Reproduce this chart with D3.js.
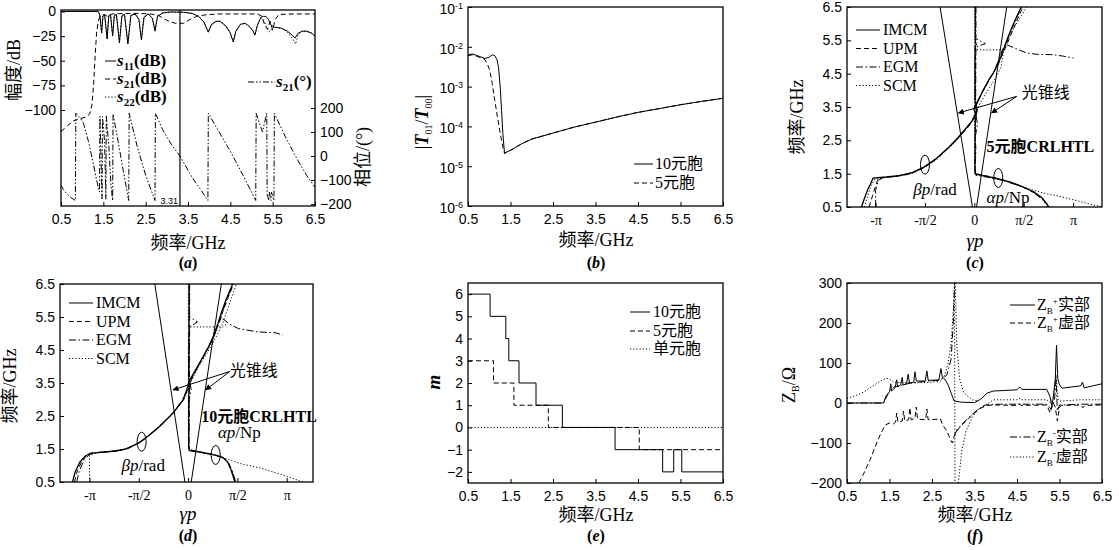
<!DOCTYPE html>
<html>
<head>
<meta charset="utf-8">
<script src="https://cdn.jsdelivr.net/npm/d3@7"></script>
<style>
  body { margin: 0; background: #fff; }
  svg { display: block; }
</style>
</head>
<body>
<script>
// ---------- data ----------
var freqTicks = [0.5, 1.5, 2.5, 3.5, 4.5, 5.5, 6.5];
var gpTicks = [-Math.PI, -Math.PI / 2, 0, Math.PI / 2, Math.PI];
var gpLabels = ["-π", "-π/2", "0", "π/2", "π"];

// (a) S parameters, dB on left axis, phase on right axis
var aDbTicks = [0, -25, -50, -75, -100];
var aPhTicks = [200, 100, 0, -100, -200];
var aMark = 3.31;
var aS11 = [[0.5,0],[1.38,0],[1.42,-4],[1.46,-22],[1.49,-5],[1.53,-3],[1.59,-28],[1.63,-4],[1.67,-3],[1.72,-25],[1.76,-4],[1.81,-3],[1.88,-32],[1.94,-4],[2.0,-3],[2.08,-33],[2.15,-4],[2.25,-2.5],[2.34,-8],[2.4,-29],[2.46,-6],[2.56,-2.5],[2.66,-7],[2.72,-20],[2.78,-5],[2.9,-1.5],[3.1,-0.5],[3.4,-0.8],[3.6,-2],[3.75,-5],[3.88,-11],[3.98,-21],[4.06,-13],[4.16,-10],[4.26,-10],[4.4,-15],[4.5,-22],[4.57,-31],[4.63,-20],[4.74,-13],[4.85,-12],[4.97,-16],[5.04,-20],[5.08,-24],[5.14,-14],[5.22,-6],[5.28,-5],[5.34,-5],[5.4,-8],[5.46,-14],[5.55,-16],[5.71,-17],[5.85,-20],[5.96,-24],[6.03,-27],[6.1,-22],[6.2,-20],[6.3,-20],[6.42,-22],[6.5,-25]];
var aS22 = [[0.5,0],[1.38,0],[1.42,-4],[1.46,-21],[1.49,-5],[1.53,-3],[1.59,-27],[1.63,-4],[1.67,-3],[1.72,-24],[1.76,-4],[1.81,-3],[1.88,-31],[1.94,-4],[2.0,-3],[2.08,-32],[2.15,-4],[2.25,-2.5],[2.34,-8],[2.4,-28],[2.46,-6],[2.56,-2.5],[2.66,-7],[2.72,-19],[2.78,-5],[2.9,-1.5],[3.1,-0.5],[3.4,-0.8],[3.6,-2],[3.75,-5],[3.88,-11],[3.98,-21],[4.06,-13],[4.16,-10],[4.26,-10],[4.4,-15],[4.5,-22],[4.57,-31],[4.63,-20],[4.74,-13],[4.85,-12],[4.97,-16],[5.04,-20],[5.08,-24],[5.14,-14],[5.22,-7],[5.3,-10],[5.38,-18],[5.43,-21],[5.48,-17],[5.55,-16],[5.71,-17],[5.85,-21],[5.96,-27],[6.04,-33],[6.1,-24],[6.2,-20],[6.3,-20],[6.42,-22],[6.5,-25]];
var aS21 = [[0.5,-122],[0.65,-116],[0.8,-111],[0.95,-109],[1.1,-107],[1.18,-104],[1.23,-95],[1.27,-75],[1.3,-50],[1.34,-22],[1.38,-10],[1.42,-5],[1.5,-3],[1.6,-5],[1.7,-2.5],[2.0,-2],[2.4,-2],[2.6,-2.5],[2.8,-4],[3.0,-9],[3.2,-12],[3.4,-12],[3.55,-8],[3.7,-5],[3.9,-3.5],[4.2,-2.5],[4.8,-2.5],[5.15,-2.5],[5.25,-5],[5.32,-15],[5.38,-18],[5.44,-10],[5.5,-19],[5.56,-8],[5.65,-3],[6.0,-2.5],[6.5,-2.5]];
var aPhase = [[0.5,-121],[0.56,-140],[0.65,-160],[0.75,-175],[0.84,-185],[0.85,178],[0.95,160],[1.03,137],[1.15,60],[1.25,-20],[1.34,-100],[1.41,-150],[1.42,165],[1.47,-178],[1.48,165],[1.53,60],[1.56,-180],[1.57,170],[1.63,40],[1.68,-120],[1.72,-185],[1.73,175],[1.85,60],[1.97,-60],[2.1,-185],[2.11,178],[2.3,40],[2.5,-80],[2.72,-185],[2.73,178],[2.9,110],[3.1,50],[3.31,0],[3.6,-90],[3.8,-140],[3.97,-185],[3.98,178],[4.2,110],[4.5,20],[4.8,-80],[5.1,-185],[5.11,178],[5.2,130],[5.26,100],[5.31,140],[5.36,178],[5.37,-160],[5.41,-185],[5.42,-150],[5.46,-185],[5.47,-150],[5.53,-185],[5.54,178],[5.8,80],[6.1,-20],[6.3,-80],[6.5,-130]];

// (b) |T01/T00|
var bDecades = [1e-6, 1e-5, 1e-4, 1e-3, 1e-2, 1e-1];
var b10 = [[0.5,6.2e-3],[0.6,6.6e-3],[0.7,6.1e-3],[0.8,5.6e-3],[0.9,5.1e-3],[1.0,5.5e-3],[1.08,6.3e-3],[1.13,6.0e-3],[1.18,4.8e-3],[1.22,3.0e-3],[1.26,9e-4],[1.29,2.5e-4],[1.32,6.6e-5],[1.36,2.1e-5],[1.42,2.3e-5],[1.5,2.5e-5],[1.75,3.6e-5],[2.0,4.8e-5],[2.5,6.8e-5],[3.0,9.6e-5],[3.5,1.28e-4],[4.0,1.72e-4],[4.5,2.25e-4],[5.0,2.8e-4],[5.5,3.5e-4],[6.0,4.25e-4],[6.5,5.1e-4]];
var b5 = [[0.5,6.0e-3],[0.6,6.3e-3],[0.7,5.8e-3],[0.85,5.1e-3],[0.9,4.7e-3],[0.96,3.6e-3],[1.01,2.6e-3],[1.07,1.2e-3],[1.13,4.5e-4],[1.19,1.8e-4],[1.25,7.5e-5],[1.32,3e-5],[1.36,2.1e-5],[1.42,2.3e-5],[1.5,2.5e-5],[1.75,3.6e-5],[2.0,4.8e-5],[2.5,6.8e-5],[3.0,9.6e-5],[3.5,1.28e-4],[4.0,1.72e-4],[4.5,2.25e-4],[5.0,2.8e-4],[5.5,3.5e-4],[6.0,4.25e-4],[6.5,5.1e-4]];

// (c) 5-cell CRLHTL dispersion
var cImcmBeta = [[-3.59,0.5],[-3.5,0.75],[-3.4,1.0],[-3.3,1.2],[-3.22,1.37],[-2.8,1.4],[-2.4,1.44],[-2.0,1.52],[-1.6,1.7],[-1.2,1.96],[-0.8,2.3],[-0.5,2.6],[-0.25,2.88],[-0.06,3.1],[0.04,3.3],[-0.02,3.45],[0.08,3.6],[0.25,3.95],[0.45,4.3],[0.62,4.55],[0.8,4.9],[0.95,5.28],[1.05,5.55],[1.2,5.9],[1.45,6.42],[1.5,6.5]];
var cImcmAlpha = [[0.03,6.5],[0.03,5.45],[0.06,5.38],[0.02,5.3],[0.02,3.7],[0.08,3.4],[0.03,3.1],[0.02,1.75],[0.03,1.5],[0.3,1.44],[0.7,1.36],[1.1,1.26],[1.5,1.12],[1.9,0.95],[2.15,0.78],[2.3,0.6],[2.36,0.5]];
var cUpmBeta = [[-3.35,0.5],[-3.25,0.8],[-3.15,1.1],[-3.08,1.3],[-3.0,1.38],[-2.6,1.41],[-2.2,1.46],[-1.8,1.58],[-1.5,1.74],[-1.1,2.02],[-0.7,2.38],[-0.4,2.68],[-0.15,2.95],[-0.02,3.15],[0.08,3.35],[0.02,3.5],[0.15,3.75],[0.35,4.1],[0.55,4.45],[0.75,4.75],[0.9,5.1],[1.0,5.3],[1.2,5.75],[1.4,6.2],[1.55,6.5]];
var cUpmAlpha = [[0.04,6.5],[0.04,5.5],[0.03,3.2],[0.02,1.7],[0.04,1.48],[0.4,1.43],[0.8,1.34],[1.2,1.23],[1.6,1.08],[1.95,0.9],[2.2,0.72],[2.3,0.5]];
var cEgmBeta = [[-3.14,0.5],[-3.14,1.0],[-3.05,1.3],[-2.9,1.38],[-2.5,1.42],[-2.1,1.5],[-1.7,1.65],[-1.3,1.88],[-0.9,2.22],[-0.55,2.55],[-0.3,2.82],[-0.1,3.05],[0.05,3.25],[0.1,3.45],[0.05,3.6],[0.2,3.85],[0.4,4.2],[0.6,4.5],[0.75,4.85],[0.88,5.2],[1.0,5.38],[1.15,5.75],[1.35,6.2],[1.5,6.5]];
var cEgmAlpha = [[0.05,6.5],[0.05,5.55],[0.35,5.4],[0.05,5.3],[0.04,3.3],[0.1,3.0],[0.03,2.6],[0.05,2.2],[0.02,1.6],[0.05,1.45],[0.4,1.4],[0.9,1.3],[1.3,1.18],[1.7,1.04],[2.0,0.85],[2.25,0.65],[2.38,0.5],null,[1.03,5.37],[1.2,5.3],[1.45,5.2],[1.67,5.12],[2.0,5.08],[2.5,5.07],[2.8,5.03],[3.15,4.97]];
var cScmBeta = [[-3.5,0.5],[-3.4,0.8],[-3.3,1.1],[-3.18,1.32],[-2.9,1.38],[-2.4,1.43],[-2.0,1.5],[-1.6,1.68],[-1.2,1.92],[-0.85,2.25],[-0.6,2.45],[-0.35,2.75],[-0.12,3.0],[0.02,3.3],[0.12,3.5],[0.3,3.8],[0.5,4.1],[0.7,4.4],[0.85,4.7],[0.95,5.3],[1.15,5.7],[1.4,6.1],[1.67,6.5]];
var cScmAlpha = [[0.01,6.5],[0.01,5.22],[0.5,5.21],[1.0,5.22],null,[0.01,5.0],[0.01,1.5],[0.3,1.42],[0.8,1.32],[1.3,1.18],[1.7,1.05],[2.2,0.92],[2.8,0.8],[3.3,0.68],[3.7,0.58],[4.1,0.5]];
var cConeL = [[-0.06,0.5],[-1.09,6.5]];
var cConeR = [[0.07,0.5],[1.03,6.5]];

// (d) 10-cell CRLHTL dispersion
var dImcmBeta = [[-3.68,0.5],[-3.6,0.8],[-3.45,1.1],[-3.28,1.28],[-3.12,1.37],[-2.8,1.4],[-2.3,1.44],[-1.96,1.5],[-1.54,1.7],[-1.2,1.95],[-0.9,2.19],[-0.48,2.59],[-0.16,2.99],[-0.04,3.3],[0.03,3.55],[0.12,3.7],[0.3,4.0],[0.48,4.3],[0.65,4.6],[0.8,4.9],[0.95,5.3],[1.05,5.6],[1.2,6.0],[1.42,6.5]];
var dImcmAlpha = [[0.03,6.5],[0.03,5.5],[0.02,3.7],[0.05,3.4],[0.02,3.1],[0.02,1.6],[0.04,1.46],[0.4,1.4],[0.8,1.33],[1.1,1.25],[1.25,1.12],[1.35,0.92],[1.42,0.72],[1.49,0.5]];
var dUpmBeta = [[-3.62,0.5],[-3.54,0.8],[-3.4,1.1],[-3.24,1.3],[-3.08,1.38],[-2.7,1.41],[-2.2,1.45],[-1.9,1.52],[-1.5,1.72],[-1.15,1.98],[-0.85,2.23],[-0.45,2.62],[-0.14,3.0],[-0.02,3.3],[0.06,3.5],[0.16,3.72],[0.33,4.02],[0.5,4.32],[0.68,4.62],[0.83,4.92],[0.97,5.3],[1.08,5.6],[1.24,6.0],[1.45,6.5]];
var dUpmAlpha = [[0.04,6.5],[0.04,5.5],[0.03,3.3],[0.02,1.6],[0.05,1.47],[0.4,1.41],[0.8,1.34],[1.12,1.24],[1.27,1.1],[1.37,0.9],[1.44,0.7],[1.5,0.5]];
var dEgmBeta = [[-3.55,0.5],[-3.46,0.85],[-3.32,1.15],[-3.14,1.33],[-2.9,1.39],[-2.4,1.43],[-2.0,1.5],[-1.6,1.67],[-1.25,1.92],[-0.95,2.15],[-0.55,2.52],[-0.2,2.95],[-0.05,3.25],[0.05,3.5],[0.2,3.8],[0.4,4.15],[0.58,4.45],[0.72,4.7],[0.88,5.05],[1.02,5.4],[1.15,5.8],[1.3,6.2],[1.45,6.5],null,[1.1,5.45],[1.3,5.3],[1.6,5.15],[2.2,5.05],[2.8,5.02],[3.02,4.95]];
var dEgmAlpha = [[0.05,6.5],[0.05,5.5],[0.3,5.35],[0.05,5.2],[0.04,3.6],[0.1,3.3],[0.04,3.0],[0.03,1.6],[0.06,1.45],[0.45,1.39],[0.85,1.32],[1.15,1.22],[1.3,1.06],[1.4,0.85],[1.47,0.65],[1.52,0.5]];
var dScmBeta = [[-3.14,0.5],[-3.14,1.3],[-2.95,1.38],[-2.5,1.42],[-2.0,1.5],[-1.6,1.67],[-1.2,1.95],[-0.8,2.3],[-0.5,2.55],[-0.25,2.85],[-0.08,3.1],[0.05,3.45],[0.2,3.75],[0.4,4.1],[0.6,4.4],[0.78,4.7],[0.95,5.0],[1.1,5.3],[1.3,5.85],[1.54,6.5]];
var dScmAlpha = [[0.01,6.5],[0.01,5.2],[1.1,5.2],[1.25,5.3],null,[0.01,5.0],[0.01,1.5],[0.4,1.41],[0.9,1.31],[1.3,1.18],[1.7,1.05],[2.3,0.92],[3.0,0.72],[3.66,0.5]];
var dConeL = [[-0.1,0.5],[-1.06,6.5]];
var dConeR = [[0.1,0.5],[1.06,6.5]];

// (e) mode number m
var eTicks = [6, 5, 4, 3, 2, 1, 0, -1, -2];
var e10 = [[0.5,6],[1.02,5],[1.39,4],[1.46,3],[1.7,2],[2.1,1],[2.72,0],[3.96,-1],[5.08,-2],[5.34,-1],[5.53,-2],[6.5,-2]];
var e5 = [[0.5,3],[1.1,2],[1.58,1],[2.39,0],[4.53,-1],[6.5,-1]];
var e1 = [[0.5,0],[6.5,0]];

// (f) Bloch impedance
var fTicks = [300, 200, 100, 0, -100, -200];
var fZpRe = [[0.5,0],[1.36,0],[1.42,18],[1.5,28],[1.53,48],[1.55,30],[1.63,38],[1.67,58],[1.69,40],[1.76,45],[1.8,64],[1.82,45],[1.9,48],[1.94,72],[1.97,50],[2.07,52],[2.1,78],[2.13,55],[2.34,55],[2.38,80],[2.41,57],[2.66,57],[2.71,86],[2.74,65],[2.8,60],[2.88,45],[2.95,25],[3.02,5],[3.2,2],[3.5,1],[3.65,10],[3.8,25],[3.95,30],[4.5,33],[4.56,40],[4.62,34],[5.2,34],[5.28,15],[5.32,-8],[5.36,20],[5.4,60],[5.43,145],[5.46,60],[5.5,45],[5.56,37],[6.0,43],[6.04,52],[6.08,38],[6.5,48]];
var fZpIm = [[0.78,-200],[0.9,-175],[1.05,-140],[1.2,-100],[1.3,-75],[1.4,-55],[1.5,-50],[1.6,-52],[1.64,-48],[1.67,-25],[1.7,-48],[1.8,-45],[1.83,-20],[1.86,-45],[1.95,-42],[1.98,-12],[2.01,-42],[2.1,-38],[2.13,-10],[2.16,-40],[2.35,-42],[2.38,-15],[2.41,-42],[2.7,-40],[2.75,-55],[2.85,-70],[2.95,-95],[2.98,-100],[3.0,-90],[3.05,-75],[3.2,-55],[3.4,-35],[3.6,-15],[3.8,-6],[4.0,-5],[4.5,-6],[4.55,-2],[4.6,-6],[5.2,-5],[5.28,-25],[5.35,0],[5.4,-10],[5.45,-45],[5.5,-10],[5.55,-6],[6.0,-5],[6.05,-12],[6.1,-6],[6.5,-5]];
var fZmRe = [[0.5,0],[1.36,0],[1.5,30],[1.6,40],[2.0,50],[2.7,58],[2.85,70],[2.95,110],[3.0,200],[3.03,300],null,[3.03,-80],[3.1,-65],[3.25,-48],[3.45,-28],[3.6,-15],[3.75,-5],[4.0,-3],[4.5,-3],[5.2,-3],[5.3,-15],[5.38,5],[5.42,60],[5.45,-20],[5.5,-5],[6.0,-3],[6.5,-3]];
var fZmIm = [[0.5,12],[0.7,18],[0.9,28],[1.1,42],[1.3,56],[1.42,62],[1.5,60],[1.6,52],[2.0,50],[2.5,52],[2.7,55],[2.8,70],[2.88,100],[2.95,150],[3.0,230],[3.03,300],[3.04,-200],null,[3.05,300],[3.08,150],[3.15,60],[3.25,25],[3.45,8],[3.6,5],null,[3.12,-200],[3.2,-120],[3.3,-70],[3.45,-35],[3.6,-15],[3.8,-2],[3.95,8],[4.5,8],[4.55,12],[4.6,8],[5.2,8],[5.3,0],[5.35,10],[5.42,70],[5.46,10],[5.5,5],[6.0,8],[6.5,8]];

// ---------- drawing ----------
var W = 1119, H = 550;
var SANS = "'Liberation Sans', Arial, sans-serif";
var SERIF = "'Liberation Serif', 'Times New Roman', 'Noto Sans CJK SC', serif";
var DASH = { solid: null, dashed: "5,3", dotted: "1.2,2", dashdot: "7,2.5,1.5,2.5", dashdotdot: "6,2,1.5,2,1.5,2" };
var TITLE = 17;

var svg = d3.select("body").append("svg")
  .attr("width", W)
  .attr("height", H)
  .style("background", "#fff");

svg.append("defs").append("marker")
  .attr("id", "arrow")
  .attr("viewBox", "0 0 10 10")
  .attr("refX", 9).attr("refY", 5)
  .attr("markerWidth", 8).attr("markerHeight", 6)
  .attr("orient", "auto-start-reverse")
  .append("path").attr("d", "M0,0 L10,5 L0,10 Z").attr("fill", "#000");

var clipCount = 0;
function plotArea(x, y) {
  var id = "clip" + (clipCount++);
  svg.select("defs").append("clipPath").attr("id", id).append("rect")
    .attr("x", x.range()[0]).attr("y", y.range()[1])
    .attr("width", x.range()[1] - x.range()[0])
    .attr("height", y.range()[0] - y.range()[1]);
  return svg.append("g").attr("clip-path", "url(#" + id + ")");
}

function box(x, y) {
  svg.append("rect")
    .attr("x", x.range()[0]).attr("y", y.range()[1])
    .attr("width", x.range()[1] - x.range()[0])
    .attr("height", y.range()[0] - y.range()[1])
    .attr("fill", "none").attr("stroke", "#000").attr("stroke-width", 1.3);
}

function plot(g, x, y, data, style, curve, width) {
  var line = d3.line()
    .defined(function(d) { return d !== null; })
    .x(function(d) { return x(d[0]); })
    .y(function(d) { return y(d[1]); });
  if (curve) line.curve(curve);
  g.append("path")
    .attr("d", line(data))
    .attr("fill", "none")
    .attr("stroke", "#000")
    .attr("stroke-width", width || 1)
    .attr("stroke-dasharray", DASH[style]);
}

function styleAxis(g, font) {
  g.select(".domain").remove();
  g.selectAll("line").attr("stroke", "#000");
  g.selectAll("text").attr("font-family", font || SANS).attr("font-size", 14).attr("fill", "#000");
}

function xAxis(x, y, ticks, fmt, font) {
  var ax = d3.axisBottom(x).tickValues(ticks).tickSizeInner(-4).tickSizeOuter(0).tickPadding(8);
  if (fmt) ax.tickFormat(fmt);
  var g = svg.append("g").attr("transform", "translate(0," + y.range()[0] + ")").call(ax);
  styleAxis(g, font);
  return g;
}

function yAxis(x, y, ticks, fmt) {
  var ax = d3.axisLeft(y).tickValues(ticks).tickSizeInner(-4).tickSizeOuter(0).tickPadding(5);
  if (fmt) ax.tickFormat(fmt);
  var g = svg.append("g").attr("transform", "translate(" + x.range()[0] + ",0)").call(ax);
  styleAxis(g);
  return g;
}

function label(x, y, parts, opts) {
  opts = opts || {};
  var t = svg.append("text")
    .attr("x", x).attr("y", y)
    .attr("font-family", opts.font || SERIF)
    .attr("font-size", opts.size || TITLE)
    .attr("text-anchor", opts.anchor || "middle")
    .attr("fill", "#000");
  if (opts.rotate) t.attr("transform", "rotate(-90," + x + "," + y + ")");
  if (opts.bold) t.attr("font-weight", "bold");
  parts.forEach(function(p) {
    if (typeof p === "string") p = { t: p };
    var s = t.append("tspan").text(p.t);
    if (p.i) s.attr("font-style", "italic");
    if (p.b) s.attr("font-weight", "bold");
    if (p.s) s.attr("font-size", p.s);
    if (p.dy) s.attr("dy", p.dy);
  });
  return t;
}

function caption(x, y, letter) {
  label(x, y, [{ t: "(", b: true }, { t: letter, i: true, b: true }, { t: ")", b: true }], { size: 16 });
}

var fmt1 = d3.format(".1f");
var freqTitle = ["频率/GHz"];

// ===== (a) =====
var axA = d3.scaleLinear().domain([0.5, 6.5]).range([61, 315]);
var ayL = d3.scaleLinear().domain([-197.5, 1.5]).range([206, 10]);
var ayR = d3.scaleLinear().domain([-208, 608]).range([206, 10]);
var gA = plotArea(axA, ayL);
plot(gA, axA, ayR, aPhase, "dashdotdot");
plot(gA, axA, ayL, aS21, "dashed");
plot(gA, axA, ayL, aS22, "dotted");
plot(gA, axA, ayL, aS11, "solid");
gA.append("line")
  .attr("x1", axA(aMark)).attr("x2", axA(aMark))
  .attr("y1", ayL.range()[0]).attr("y2", ayL.range()[1])
  .attr("stroke", "#000").attr("stroke-width", 1.2);
box(axA, ayL);
xAxis(axA, ayL, freqTicks, fmt1);
yAxis(axA, ayL, aDbTicks, d3.format("d"));
var gAr = svg.append("g").attr("transform", "translate(" + axA.range()[1] + ",0)")
  .call(d3.axisRight(ayR).tickValues(aPhTicks).tickSizeInner(-4).tickSizeOuter(0).tickPadding(5));
styleAxis(gAr);
label(axA(aMark) - 2, 204, [String(aMark)], { font: SANS, size: 9, anchor: "end" });
label(20, 70, ["幅度/dB"], { rotate: true, size: 18 });
label(369, 157, ["相位/(°)"], { rotate: true, size: 18 });
label(188, 249, freqTitle, { size: 18 });
caption(188, 268, "a");
[["11", "solid", 61], ["21", "dashed", 79], ["22", "dotted", 97]].forEach(function(r) {
  svg.append("line").attr("x1", 105).attr("x2", 116).attr("y1", r[2]).attr("y2", r[2])
    .attr("stroke", "#000").attr("stroke-dasharray", DASH[r[1]]);
  label(117, r[2] + 5, [{ t: "s", i: true, b: true }, { t: r[0], s: 11, dy: 4, b: true }, { t: "(dB)", dy: -4, b: true }], { anchor: "start", size: 17 });
});
svg.append("line").attr("x1", 248).attr("x2", 275).attr("y1", 82).attr("y2", 82)
  .attr("stroke", "#000").attr("stroke-dasharray", DASH.dashdotdot);
label(276, 87, [{ t: "s", i: true, b: true }, { t: "21", s: 11, dy: 4, b: true }, { t: "(°)", dy: -4, b: true }], { anchor: "start", size: 17 });

// ===== (b) =====
var bx = d3.scaleLinear().domain([0.5, 6.5]).range([468, 723]);
var by = d3.scaleLog().domain([1e-6, 1e-1]).range([206, 7]);
var gB = plotArea(bx, by);
plot(gB, bx, by, b5, "dashed");
plot(gB, bx, by, b10, "solid");
box(bx, by);
xAxis(bx, by, freqTicks, fmt1);
var gBy = yAxis(bx, by, bDecades, function() { return ""; });
gBy.selectAll(".tick text").attr("dy", "0.45em").each(function(d) {
  var t = d3.select(this);
  t.append("tspan").text("10");
  t.append("tspan").attr("dy", -5).attr("font-size", 9).text(Math.round(Math.log10(d)));
});
label(428, 122, [{ t: "|" }, { t: "T", i: true, b: true }, { t: "01", s: 10, dy: 4 }, { t: "/", dy: -4 }, { t: "T", i: true, b: true }, { t: "00", s: 10, dy: 4 }, { t: "|", dy: -4 }], { rotate: true, size: 18 });
label(596, 246, freqTitle, { size: 18 });
caption(596, 268, "b");
[["10元胞", "solid", 164], ["5元胞", "dashed", 183]].forEach(function(r) {
  svg.append("line").attr("x1", 634).attr("x2", 653).attr("y1", r[2]).attr("y2", r[2])
    .attr("stroke", "#000").attr("stroke-dasharray", DASH[r[1]]);
  label(655, r[2] + 5, [r[0]], { anchor: "start", size: 16 });
});

// ===== (c) and (d) dispersion =====
function dispersion(x, y, set, ann) {
  var g = plotArea(x, y);
  plot(g, x, y, set.coneL, "solid");
  plot(g, x, y, set.coneR, "solid");
  plot(g, x, y, set.scmB, "dotted");
  plot(g, x, y, set.scmA, "dotted");
  plot(g, x, y, set.egmB, "dashdot");
  plot(g, x, y, set.egmA, "dashdot");
  plot(g, x, y, set.upmB, "dashed");
  plot(g, x, y, set.upmA, "dashed");
  plot(g, x, y, set.imcmB, "solid", null, 1.3);
  plot(g, x, y, set.imcmA, "solid", null, 1.3);
  box(x, y);
  xAxis(x, y, gpTicks, function(d, i) { return gpLabels[i]; }, SERIF);
  yAxis(x, y, freqTicks, fmt1);
  // legend
  var lx = x.range()[0];
  var ly = y.range()[1];
  [["IMCM", "solid"], ["UPM", "dashed"], ["EGM", "dashdot"], ["SCM", "dotted"]].forEach(function(r, i) {
    var yy = ly + ann.legendTop + i * 18.5;
    svg.append("line").attr("x1", lx + 9).attr("x2", lx + 33).attr("y1", yy).attr("y2", yy)
      .attr("stroke", "#000").attr("stroke-dasharray", DASH[r[1]]);
    label(lx + 36, yy + 5, [r[0]], { anchor: "start", size: 16 });
  });
  // light-cone annotation
  label(x(ann.coneText[0]), y(ann.coneText[1]), ["光锥线"], { anchor: "start", size: 16 });
  ann.coneTo.forEach(function(p) {
    svg.append("line")
      .attr("x1", x(ann.coneFrom[0])).attr("y1", y(ann.coneFrom[1]))
      .attr("x2", x(p[0])).attr("y2", y(p[1]))
      .attr("stroke", "#000").attr("stroke-width", 1)
      .attr("marker-end", "url(#arrow)");
  });
  ann.ellipses.forEach(function(p) {
    svg.append("ellipse").attr("cx", x(p[0])).attr("cy", y(p[1]))
      .attr("rx", 4.5).attr("ry", 9.5)
      .attr("fill", "none").attr("stroke", "#000");
  });
  label(x(ann.beta[0]), y(ann.beta[1]), [{ t: "βp", i: true }, "/rad"], { anchor: "start", size: 17 });
  label(x(ann.alpha[0]), y(ann.alpha[1]), [{ t: "αp", i: true }, "/Np"], { anchor: "start", size: 17 });
  label(x(ann.cell[0]), y(ann.cell[1]), [ann.cellText], { anchor: "start", size: 16, bold: true });
}

var cx = d3.scaleLinear().domain([-4.05, 4.06]).range([847, 1102]);
var cy = d3.scaleLinear().domain([0.5, 6.5]).range([207, 7]);
dispersion(cx, cy, {
  coneL: cConeL, coneR: cConeR,
  imcmB: cImcmBeta, imcmA: cImcmAlpha, upmB: cUpmBeta, upmA: cUpmAlpha,
  egmB: cEgmBeta, egmA: cEgmAlpha, scmB: cScmBeta, scmA: cScmAlpha
}, {
  legendTop: 23, coneText: [1.51, 3.76], coneFrom: [1.35, 3.82],
  coneTo: [[-0.51, 3.32], [0.55, 3.32]],
  ellipses: [[-1.57, 1.77], [0.76, 1.37]],
  beta: [-1.94, 0.86], alpha: [0.39, 0.62], cell: [0.39, 2.16], cellText: "5元胞CRLHTL"
});
label(975, 247, [{ t: "γp", i: true }], { size: 19 });
label(803, 117, freqTitle, { rotate: true, size: 18 });
caption(975, 268, "c");

var dx = d3.scaleLinear().domain([-4.08, 3.98]).range([60, 313]);
var dy = d3.scaleLinear().domain([0.5, 6.5]).range([482, 284]);
dispersion(dx, dy, {
  coneL: dConeL, coneR: dConeR,
  imcmB: dImcmBeta, imcmA: dImcmAlpha, upmB: dUpmBeta, upmA: dUpmAlpha,
  egmB: dEgmBeta, egmA: dEgmAlpha, scmB: dScmBeta, scmA: dScmAlpha
}, {
  legendTop: 19, coneText: [1.33, 3.71], coneFrom: [1.33, 3.85],
  coneTo: [[-0.48, 3.29], [0.56, 3.29]],
  ellipses: [[-1.48, 1.72], [0.88, 1.32]],
  beta: [-2.12, 0.84], alpha: [0.95, 1.82], cell: [0.42, 2.33], cellText: "10元胞CRLHTL"
});
label(188, 520, [{ t: "γp", i: true }], { size: 19 });
label(16, 386, freqTitle, { rotate: true, size: 18 });
caption(188, 541, "d");

// ===== (e) =====
var ex = d3.scaleLinear().domain([0.5, 6.5]).range([468, 723]);
var ey = d3.scaleLinear().domain([-2.5, 6.5]).range([483, 283]);
var gE = plotArea(ex, ey);
plot(gE, ex, ey, e1, "dotted");
plot(gE, ex, ey, e5, "dashed", d3.curveStepAfter);
plot(gE, ex, ey, e10, "solid", d3.curveStepAfter);
box(ex, ey);
xAxis(ex, ey, freqTicks, fmt1);
yAxis(ex, ey, eTicks, d3.format("d"));
label(440, 382, [{ t: "m", i: true, b: true }], { rotate: true, size: 19 });
label(596, 521, freqTitle, { size: 18 });
caption(596, 541, "e");
[["10元胞", "solid", 312], ["5元胞", "dashed", 331], ["单元胞", "dotted", 349]].forEach(function(r) {
  svg.append("line").attr("x1", 630).attr("x2", 650).attr("y1", r[2]).attr("y2", r[2])
    .attr("stroke", "#000").attr("stroke-dasharray", DASH[r[1]]);
  label(653, r[2] + 5, [r[0]], { anchor: "start", size: 16 });
});

// ===== (f) =====
var fx = d3.scaleLinear().domain([0.5, 6.5]).range([847, 1102]);
var fy = d3.scaleLinear().domain([-200, 300]).range([483, 283]);
var gF = plotArea(fx, fy);
plot(gF, fx, fy, fZmIm, "dotted");
plot(gF, fx, fy, fZmRe, "dashdot");
plot(gF, fx, fy, fZpIm, "dashed");
plot(gF, fx, fy, fZpRe, "solid");
box(fx, fy);
xAxis(fx, fy, freqTicks, fmt1);
yAxis(fx, fy, fTicks, d3.format("d"));
label(795, 385, [{ t: "Z" }, { t: "B", s: 10, dy: 4 }, { t: "/Ω", dy: -4 }], { rotate: true, size: 18 });
label(975, 521, freqTitle, { size: 18 });
caption(975, 541, "f");
[["+", "实部", "solid", 305], ["+", "虚部", "dashed", 323], ["-", "实部", "dashdot", 437], ["-", "虚部", "dotted", 457]].forEach(function(r) {
  svg.append("line").attr("x1", 1010).attr("x2", 1035).attr("y1", r[3]).attr("y2", r[3])
    .attr("stroke", "#000").attr("stroke-dasharray", DASH[r[2]]);
  label(1037, r[3] + 5, [{ t: "Z" }, { t: "B", s: 9, dy: 4 }, { t: r[0], s: 9, dy: -10 }, { t: r[1], dy: 6 }], { anchor: "start", size: 16 });
});
</script>
</body>
</html>
